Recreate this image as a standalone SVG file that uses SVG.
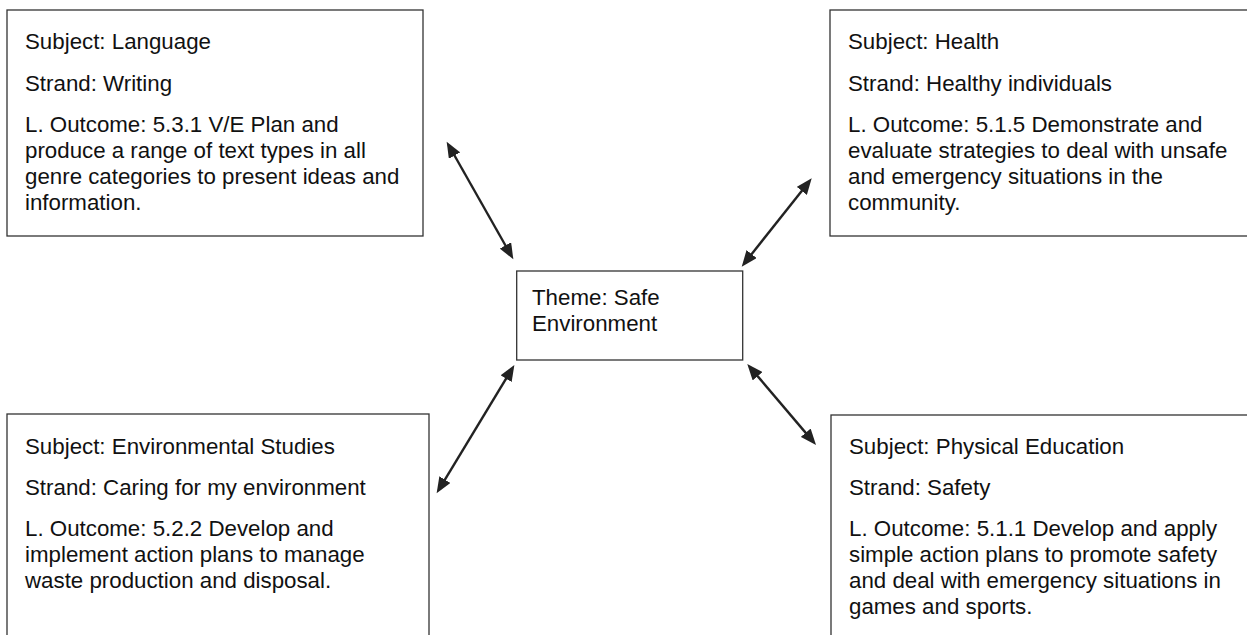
<svg xmlns="http://www.w3.org/2000/svg" width="1247" height="635" viewBox="0 0 1247 635">
<style>
.box{fill:#fff;stroke:#333;stroke-width:1.3}
.t{font-family:"Liberation Sans",Arial,sans-serif;font-size:22.3px;fill:#111}
.arr{stroke:#222;stroke-width:2.4;fill:none;marker-start:url(#ah);marker-end:url(#ah)}
</style>
<defs>
<marker id="ah" markerUnits="userSpaceOnUse" markerWidth="17" markerHeight="13" refX="7" refY="6.5" orient="auto-start-reverse" viewBox="0 0 17 13">
<path d="M0,0 L16,6.5 L0,13 z" fill="#222"/>
</marker>
</defs>
<rect width="1247" height="635" fill="#fff"/>
<g id="connectors">
<line class="arr" x1="451.1" y1="149.5" x2="508.9" y2="251.5"/>
<line class="arr" x1="806.1" y1="185.4" x2="747.3" y2="259.6"/>
<line class="arr" x1="509.7" y1="372.7" x2="441.3" y2="485.6"/>
<line class="arr" x1="753.1" y1="370.9" x2="810.2" y2="438.1"/>
</g>
<g id="language">
<rect class="box" x="7" y="10" width="416" height="226"/>
<text class="t" x="25" y="49">Subject: Language</text>
<text class="t" x="25" y="91">Strand: Writing</text>
<text class="t" x="25" y="132">L. Outcome: 5.3.1 V/E Plan and</text>
<text class="t" x="25" y="158">produce a range of text types in all</text>
<text class="t" x="25" y="184">genre categories to present ideas and</text>
<text class="t" x="25" y="210">information.</text>
</g>
<g id="health">
<rect class="box" x="830" y="10" width="430" height="226"/>
<text class="t" x="848" y="49">Subject: Health</text>
<text class="t" x="848" y="91">Strand: Healthy individuals</text>
<text class="t" x="848" y="132">L. Outcome: 5.1.5 Demonstrate and</text>
<text class="t" x="848" y="158">evaluate strategies to deal with unsafe</text>
<text class="t" x="848" y="184">and emergency situations in the</text>
<text class="t" x="848" y="210">community.</text>
</g>
<g id="theme">
<rect class="box" x="516.7" y="271" width="226" height="89"/>
<text class="t" x="532" y="305">Theme: Safe</text>
<text class="t" x="532" y="331">Environment</text>
</g>
<g id="environmental">
<rect class="box" x="7" y="414" width="422" height="240"/>
<text class="t" x="25" y="454">Subject: Environmental Studies</text>
<text class="t" x="25" y="495">Strand: Caring for my environment</text>
<text class="t" x="25" y="536">L. Outcome: 5.2.2 Develop and</text>
<text class="t" x="25" y="562">implement action plans to manage</text>
<text class="t" x="25" y="588">waste production and disposal.</text>
</g>
<g id="physical">
<rect class="box" x="831" y="415" width="430" height="240"/>
<text class="t" x="849" y="454">Subject: Physical Education</text>
<text class="t" x="849" y="495">Strand: Safety</text>
<text class="t" x="849" y="536">L. Outcome: 5.1.1 Develop and apply</text>
<text class="t" x="849" y="562">simple action plans to promote safety</text>
<text class="t" x="849" y="588">and deal with emergency situations in</text>
<text class="t" x="849" y="614">games and sports.</text>
</g>
</svg>
